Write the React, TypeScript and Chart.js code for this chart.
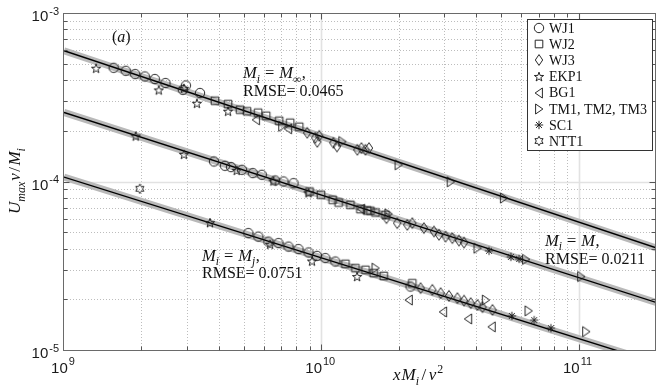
import React, { useEffect, useRef } from 'react';
import { Chart, registerables } from 'chart.js';

Chart.register(...registerables);

// ---------- axes ----------
const X_MIN = 1e9;
const X_MAX = 2e11;
const Y_MIN = 1e-5;
const Y_MAX = 1e-3;
const X_TICK_VALUES = [1e9, 1e10, 1e11];
const X_TICK_EXPONENTS = ['9', '10', '11'];
const Y_TICK_VALUES = [1e-5, 1e-4, 1e-3];
const Y_TICK_EXPONENTS = ['-5', '-4', '-3'];

// ---------- data (x M_i / nu^2 , U_max nu / M_i) ----------
const WJ1: [number, number][] = [
  [1.56e9, 4.73e-4], [1.737e9, 4.54e-4], [1.891e9, 4.34e-4], [2.06e9, 4.2e-4], [2.253e9, 4.055e-4],
  [2.48e9, 3.84e-4], [2.897e9, 3.5e-4], [2.977e9, 3.715e-4], [3.376e9, 3.35e-4],
  [3.827e9, 1.315e-4], [4.225e9, 1.24e-4], [4.459e9, 1.218e-4], [4.92e9, 1.174e-4], [5.416e9, 1.122e-4],
  [5.873e9, 1.096e-4], [6.618e9, 1.014e-4], [7.129e9, 1.0e-4], [7.8e9, 9.78e-5],
  [5.207e9, 4.94e-5], [5.695e9, 4.71e-5], [6.231e9, 4.4e-5], [6.817e9, 4.31e-5], [7.456e9, 4.11e-5],
  [8.155e9, 3.97e-5], [8.92e9, 3.79e-5], [9.62e9, 3.62e-5], [1.037e10, 3.51e-5], [1.134e10, 3.35e-5],
  [2.223e10, 2.38e-5],
];
const WJ2: [number, number][] = [
  [3.862e9, 3.014e-4], [4.34e9, 2.881e-4], [4.832e9, 2.666e-4], [5.146e9, 2.611e-4], [5.68e9, 2.559e-4],
  [6.105e9, 2.455e-4], [6.86e9, 2.293e-4], [7.57e9, 2.231e-4], [8.21e9, 2.112e-4],
  [9.0e9, 8.72e-5], [9.97e9, 8.34e-5], [1.107e10, 7.79e-5], [1.168e10, 7.5e-5], [1.298e10, 7.27e-5],
  [1.419e10, 6.86e-5], [1.508e10, 6.73e-5], [1.552e10, 6.7e-5], [1.624e10, 6.55e-5], [1.776e10, 6.34e-5],
  [1.241e10, 3.245e-5], [1.357e10, 3.06e-5], [1.485e10, 2.99e-5], [1.599e10, 2.86e-5], [1.749e10, 2.75e-5],
  [2.258e10, 2.49e-5],
];
const WJ3: [number, number][] = [
  [8.82e9, 1.946e-4], [9.476e9, 1.817e-4], [9.82e9, 1.867e-4], [9.65e9, 1.72e-4], [1.114e10, 1.698e-4],
  [1.151e10, 1.614e-4], [1.381e10, 1.542e-4], [1.432e10, 1.579e-4], [1.485e10, 1.542e-4], [1.532e10, 1.579e-4],
  [1.792e10, 6.06e-5], [1.973e10, 5.66e-5], [2.159e10, 5.53e-5], [2.258e10, 5.66e-5], [2.505e10, 5.29e-5],
  [2.741e10, 5.05e-5], [2.867e10, 4.83e-5], [3.043e10, 4.71e-5], [3.232e10, 4.61e-5], [3.43e10, 4.46e-5],
  [3.588e10, 4.34e-5],
  [2.432e10, 2.328e-5], [2.702e10, 2.275e-5], [2.911e10, 2.174e-5], [3.135e10, 2.096e-5], [3.381e10, 2.031e-5],
  [3.588e10, 1.965e-5], [3.81e10, 1.896e-5], [4.046e10, 1.852e-5], [4.232e10, 1.795e-5], [4.629e10, 1.73e-5],
];
const EKP1: [number, number][] = [
  [1.333e9, 4.67e-4], [2.336e9, 3.47e-4], [2.924e9, 3.55e-4], [3.286e9, 2.893e-4], [4.34e9, 2.594e-4],
  [1.9e9, 1.849e-4], [2.924e9, 1.441e-4], [4.692e9, 1.157e-4], [6.517e9, 1.0e-4], [8.92e9, 8.51e-5],
  [3.692e9, 5.66e-5], [6.326e9, 4.21e-5], [9.2e9, 3.35e-5], [1.378e10, 2.71e-5],
];
const BG1: [number, number][] = [
  [5.58e9, 2.324e-4], [7.435e9, 2.055e-4],
  [1.43e10, 6.85e-5],
  [2.189e10, 1.98e-5], [2.976e10, 1.683e-5], [3.726e10, 1.53e-5], [4.6e10, 1.372e-5],
];
const TM: [number, number][] = [
  [7.046e9, 2.127e-4], [1.207e10, 1.727e-4], [1.996e10, 1.257e-4], [3.183e10, 9.96e-5], [5.124e10, 7.97e-5],
  [1.824e10, 6.43e-5], [4.046e10, 4.02e-5], [6.243e10, 3.45e-5], [1.023e11, 2.73e-5],
  [1.624e10, 3.06e-5], [4.359e10, 1.98e-5], [6.386e10, 1.707e-5], [1.07e11, 1.286e-5],
];
const SC1: [number, number][] = [
  [4.489e10, 3.88e-5], [5.456e10, 3.57e-5], [5.877e10, 3.475e-5],
  [5.505e10, 1.594e-5], [6.725e10, 1.503e-5], [7.81e10, 1.347e-5],
];
const NTT1: [number, number][] = [[1.97e9, 9.05e-5]];

// fitted power laws (end points)
const FIT_MINF: [number, number][] = [[1e9, 5.97e-4], [2e11, 4.04e-5]];
const FIT_M: [number, number][] = [[1e9, 2.569e-4], [2e11, 1.917e-5]];
const FIT_MJ: [number, number][] = [[1e9, 1.062e-4], [2e11, 8.39e-6]];

const SERIES_LABELS = ['WJ1', 'WJ2', 'WJ3', 'EKP1', 'BG1', 'TM1, TM2, TM3', 'SC1', 'NTT1'];
const SERIES_DATA = [WJ1, WJ2, WJ3, EKP1, BG1, TM, SC1, NTT1];
const SERIES_MARKERS = ['circle', 'square', 'diamond', 'pentagram', 'left', 'right', 'asterisk', 'hexagram'];

// ---------- markers ----------
function makeMarker(kind: string): HTMLCanvasElement {
  const c = document.createElement('canvas');
  c.width = 16;
  c.height = 16;
  const g = c.getContext('2d') as CanvasRenderingContext2D;
  g.translate(8, 8);
  g.strokeStyle = '#1c1c1c';
  g.lineWidth = 0.95;
  g.beginPath();
  const star = (n: number, ro: number, ri: number) => {
    for (let i = 0; i < 2 * n; i++) {
      const ang = -Math.PI / 2 + (i * Math.PI) / n;
      const r = i % 2 ? ri : ro;
      const px = r * Math.cos(ang);
      const py = r * Math.sin(ang);
      if (i === 0) g.moveTo(px, py);
      else g.lineTo(px, py);
    }
    g.closePath();
  };
  switch (kind) {
    case 'circle':
      g.arc(0, 0, 4.7, 0, Math.PI * 2);
      break;
    case 'square':
      g.rect(-3.8, -3.8, 7.6, 7.6);
      break;
    case 'diamond':
      g.moveTo(0, -5.4);
      g.lineTo(3.7, 0);
      g.lineTo(0, 5.4);
      g.lineTo(-3.7, 0);
      g.closePath();
      break;
    case 'right':
      g.moveTo(-3.4, -5);
      g.lineTo(3.9, 0);
      g.lineTo(-3.4, 5);
      g.closePath();
      break;
    case 'left':
      g.moveTo(3.4, -5);
      g.lineTo(-3.9, 0);
      g.lineTo(3.4, 5);
      g.closePath();
      break;
    case 'pentagram':
      star(5, 4.9, 1.95);
      break;
    case 'hexagram':
      star(6, 4.7, 2.7);
      break;
    case 'asterisk':
      for (let k = 0; k < 4; k++) {
        const ang = (k * Math.PI) / 4;
        g.moveTo(-4.2 * Math.cos(ang), -4.2 * Math.sin(ang));
        g.lineTo(4.2 * Math.cos(ang), 4.2 * Math.sin(ang));
      }
      break;
  }
  g.stroke();
  return c;
}

// ---------- text helpers ----------
type Run = { t: string; it?: boolean; sub?: boolean; sup?: boolean; gap?: number };
const SERIF = '"Liberation Serif", "Times New Roman", serif';
const SANS = '"Liberation Sans", Arial, sans-serif';

function runsWidth(ctx: CanvasRenderingContext2D, runs: Run[], size: number) {
  let w = 0;
  for (const r of runs) {
    const s = r.sub || r.sup ? size * 0.7 : size;
    ctx.font = `${r.it ? 'italic ' : ''}${s}px ${SERIF}`;
    w += ctx.measureText(r.t).width + (r.gap || 0);
  }
  return w;
}

function drawRuns(ctx: CanvasRenderingContext2D, runs: Run[], x: number, y: number, size: number) {
  let cx = x;
  for (const r of runs) {
    const s = r.sub || r.sup ? size * 0.7 : size;
    ctx.font = `${r.it ? 'italic ' : ''}${s}px ${SERIF}`;
    const dy = r.sub ? size * 0.28 : r.sup ? -size * 0.42 : 0;
    ctx.fillText(r.t, cx, y + dy);
    cx += ctx.measureText(r.t).width + (r.gap || 0);
  }
}

const eqRuns = (rhsSub: string | null, rhsSubItalic: boolean): Run[] => {
  const runs: Run[] = [
    { t: 'M', it: true },
    { t: 'i', it: true, sub: true, gap: 5 },
    { t: '=', gap: 5 },
    { t: 'M', it: true, gap: rhsSub ? 0 : 0.5 },
  ];
  if (rhsSub) runs.push({ t: rhsSub, it: rhsSubItalic, sub: true, gap: 0.5 });
  runs.push({ t: ',' });
  return runs;
};

const decorPlugin = {
  id: 'decor',
  beforeDatasetsDraw(chart: any) {
    const { ctx, chartArea: a } = chart;
    const xs = chart.scales.x;
    const ys = chart.scales.y;
    ctx.save();
    // minor grid
    ctx.strokeStyle = '#bdbdbd';
    ctx.lineWidth = 1;
    ctx.setLineDash([1, 2]);
    for (const d of X_TICK_VALUES) {
      for (let m = 2; m <= 9; m++) {
        const v = m * d;
        if (v >= X_MAX) continue;
        const p = Math.round(xs.getPixelForValue(v)) + 0.5;
        ctx.beginPath();
        ctx.moveTo(p, a.top);
        ctx.lineTo(p, a.bottom);
        ctx.stroke();
      }
    }
    for (const d of Y_TICK_VALUES) {
      for (let m = 2; m <= 9; m++) {
        const v = m * d;
        if (v >= Y_MAX) continue;
        const p = Math.round(ys.getPixelForValue(v)) + 0.5;
        ctx.beginPath();
        ctx.moveTo(a.left, p);
        ctx.lineTo(a.right, p);
        ctx.stroke();
      }
    }
    // major grid
    ctx.setLineDash([]);
    ctx.strokeStyle = '#e2e2e2';
    ctx.lineWidth = 1.6;
    for (const v of X_TICK_VALUES) {
      if (v <= X_MIN || v >= X_MAX) continue;
      const p = Math.round(xs.getPixelForValue(v)) + 0.5;
      ctx.beginPath();
      ctx.moveTo(p, a.top);
      ctx.lineTo(p, a.bottom);
      ctx.stroke();
    }
    for (const v of Y_TICK_VALUES) {
      if (v <= Y_MIN || v >= Y_MAX) continue;
      const p = Math.round(ys.getPixelForValue(v)) + 0.5;
      ctx.beginPath();
      ctx.moveTo(a.left, p);
      ctx.lineTo(a.right, p);
      ctx.stroke();
    }
    ctx.restore();
  },
  afterDatasetsDraw(chart: any) {
    const { ctx, chartArea: a } = chart;
    const xs = chart.scales.x;
    const ys = chart.scales.y;
    const L = Math.round(a.left) - 0.5;
    const R = Math.round(a.right) - 0.5;
    const T = Math.round(a.top) + 0.5;
    const B = Math.round(a.bottom) + 0.5;
    ctx.save();
    // frame
    ctx.strokeStyle = '#6a6a6a';
    ctx.lineWidth = 1;
    ctx.strokeRect(L, T, R - L, B - T);
    // inward ticks
    ctx.strokeStyle = '#555';
    const tick = (v: number, axis: 'x' | 'y', len: number) => {
      if (axis === 'x') {
        const p = Math.round(xs.getPixelForValue(v)) + 0.5;
        ctx.beginPath();
        ctx.moveTo(p, B);
        ctx.lineTo(p, B - len);
        ctx.moveTo(p, T);
        ctx.lineTo(p, T + len);
        ctx.stroke();
      } else {
        const p = Math.round(ys.getPixelForValue(v)) + 0.5;
        ctx.beginPath();
        ctx.moveTo(L, p);
        ctx.lineTo(L + len, p);
        ctx.moveTo(R, p);
        ctx.lineTo(R - len, p);
        ctx.stroke();
      }
    };
    for (const d of X_TICK_VALUES) {
      if (d > X_MIN && d < X_MAX) tick(d, 'x', 6);
      for (let m = 2; m <= 9; m++) if (m * d < X_MAX) tick(m * d, 'x', 4);
    }
    for (const d of Y_TICK_VALUES) {
      if (d > Y_MIN && d < Y_MAX) tick(d, 'y', 6);
      for (let m = 2; m <= 9; m++) if (m * d < Y_MAX) tick(m * d, 'y', 4);
    }

    // tick labels
    ctx.fillStyle = '#1a1a1a';
    ctx.textBaseline = 'middle';
    ctx.textAlign = 'left';
    const baseFont = `15px ${SANS}`;
    const expFont = `11px ${SANS}`;
    X_TICK_VALUES.forEach((v, i) => {
      const p = xs.getPixelForValue(v);
      ctx.font = baseFont;
      const w1 = ctx.measureText('10').width;
      ctx.font = expFont;
      const w2 = ctx.measureText(X_TICK_EXPONENTS[i]).width;
      const x0 = p - (w1 + w2 + 1) / 2 - 1;
      ctx.font = baseFont;
      ctx.fillText('10', x0, a.bottom + 18.5);
      ctx.font = expFont;
      ctx.fillText(X_TICK_EXPONENTS[i], x0 + w1 + 1, a.bottom + 11.5);
    });
    Y_TICK_VALUES.forEach((v, i) => {
      const p = ys.getPixelForValue(v);
      ctx.font = baseFont;
      const w1 = ctx.measureText('10').width;
      ctx.font = expFont;
      const w2 = ctx.measureText(Y_TICK_EXPONENTS[i]).width;
      const x0 = 59 - (w1 + w2 + 1);
      ctx.font = baseFont;
      ctx.fillText('10', x0, p + 4);
      ctx.font = expFont;
      ctx.fillText(Y_TICK_EXPONENTS[i], x0 + w1 + 1, p - 1.5);
    });

    // axis titles
    ctx.textBaseline = 'alphabetic';
    ctx.fillStyle = '#111';
    const xTitle: Run[] = [
      { t: 'x', it: true, gap: 1 },
      { t: 'M', it: true },
      { t: 'i', it: true, sub: true, gap: 2.5 },
      { t: '/', gap: 2.5 },
      { t: 'ν', it: true, gap: 1 },
      { t: '2', sup: true },
    ];
    drawRuns(ctx, xTitle, 393, 380, 17);
    const yTitle: Run[] = [
      { t: 'U', it: true },
      { t: 'max', it: true, sub: true, gap: 1 },
      { t: 'ν', it: true, gap: 1.5 },
      { t: '/', gap: 1.5 },
      { t: 'M', it: true },
      { t: 'i', it: true, sub: true },
    ];
    const yw = runsWidth(ctx, yTitle, 17);
    ctx.save();
    ctx.translate(20, 181);
    ctx.rotate(-Math.PI / 2);
    drawRuns(ctx, yTitle, -yw / 2, 0, 17);
    ctx.restore();

    // annotations
    drawRuns(ctx, [{ t: '(' }, { t: 'a', it: true }, { t: ')' }], 112, 42, 16);
    drawRuns(ctx, eqRuns('∞', false), 243, 78, 16.5);
    drawRuns(ctx, [{ t: 'RMSE= 0.0465' }], 243, 96, 16);
    drawRuns(ctx, eqRuns(null, false), 545, 245.5, 16.5);
    drawRuns(ctx, [{ t: 'RMSE= 0.0211' }], 545, 263.5, 16);
    drawRuns(ctx, eqRuns('j', true), 202, 260.5, 16.5);
    drawRuns(ctx, [{ t: 'RMSE= 0.0751' }], 202, 277.5, 16);

    // legend
    const lx = 527.5, ly = 19.5, lw = 125, lh = 131;
    ctx.fillStyle = '#fff';
    ctx.fillRect(lx, ly, lw, lh);
    ctx.strokeStyle = '#333';
    ctx.lineWidth = 1;
    ctx.strokeRect(lx, ly, lw, lh);
    ctx.fillStyle = '#111';
    ctx.textBaseline = 'middle';
    ctx.font = `14px ${SERIF}`;
    const metas = chart.data.datasets.filter((d: any) => d.isSeries);
    metas.forEach((d: any, i: number) => {
      const yy = 28 + i * 16.2;
      const img = d.pointStyle as HTMLCanvasElement;
      ctx.drawImage(img, 539 - img.width / 2, Math.round(yy) - img.height / 2);
      ctx.fillText(d.label, 549, yy + 1);
    });
    ctx.restore();
  },
};

export default function App() {
  const ref = useRef<HTMLCanvasElement | null>(null);
  useEffect(() => {
    if (!ref.current) return;
    const toXY = (arr: [number, number][]) => arr.map(([x, y]) => ({ x, y }));
    const seriesSets = SERIES_LABELS.map((label, i) => ({
      label,
      isSeries: true,
      data: toXY(SERIES_DATA[i]),
      pointStyle: makeMarker(SERIES_MARKERS[i]),
      pointRadius: 5,
      showLine: false,
      order: 1,
    }));
    const fits = [FIT_MINF, FIT_M, FIT_MJ];
    const black = fits.map((f) => ({
      label: 'fit',
      data: toXY(f),
      showLine: true,
      borderColor: '#000',
      borderWidth: 1.4,
      pointRadius: 0,
      clip: 0,
      order: 2,
    }));
    const gray = fits.map((f) => ({
      label: 'band',
      data: toXY(f),
      showLine: true,
      borderColor: '#b9b9b9',
      borderWidth: 7,
      pointRadius: 0,
      clip: 0,
      order: 3,
    }));
    const chart = new Chart(ref.current, {
      type: 'scatter',
      data: { datasets: [...seriesSets, ...black, ...gray] as any },
      options: {
        animation: false,
        responsive: false,
        events: [],
        layout: { padding: { left: 64, top: 13, right: 8, bottom: 39 } },
        scales: {
          x: { type: 'logarithmic', min: X_MIN, max: X_MAX, display: false },
          y: { type: 'logarithmic', min: Y_MIN, max: Y_MAX, display: false },
        },
        plugins: { legend: { display: false }, tooltip: { enabled: false } },
      } as any,
      plugins: [decorPlugin as any],
    });
    return () => chart.destroy();
  }, []);
  return (
    <div style={{ position: 'fixed', left: 0, top: 0, width: 664, height: 389, background: '#fff' }}>
      <canvas ref={ref} width={664} height={389} style={{ display: 'block' }} />
    </div>
  );
}
